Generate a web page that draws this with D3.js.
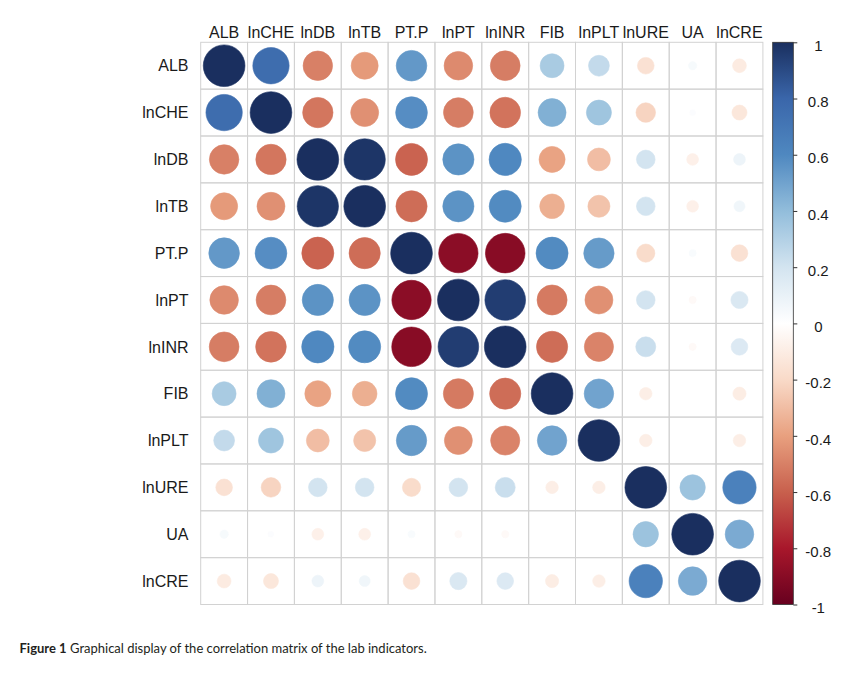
<!DOCTYPE html>
<html>
<head>
<meta charset="utf-8">
<script src="https://cdn.jsdelivr.net/npm/d3@7"></script>
<style>
  html, body { margin: 0; padding: 0; background: #fff; }
  svg { display: block; }
</style>
</head>
<body>
<svg id="chart" width="858" height="673"></svg>
<script>
// ---- data ----
const variables = ["ALB", "lnCHE", "lnDB", "lnTB", "PT.P", "lnPT", "lnINR", "FIB", "lnPLT", "lnURE", "UA", "lnCRE"];
const corr = [
  [ 1.00,  0.76, -0.50, -0.42,  0.54, -0.47, -0.51,  0.33,  0.25, -0.16,  0.04, -0.11],
  [ 0.76,  1.00, -0.53, -0.45,  0.58, -0.51, -0.54,  0.45,  0.36, -0.22,  0.02, -0.13],
  [-0.50, -0.53,  1.00,  0.98, -0.59,  0.56,  0.60, -0.39, -0.30,  0.20, -0.08,  0.08],
  [-0.42, -0.45,  0.98,  1.00, -0.56,  0.56,  0.59, -0.35, -0.28,  0.20, -0.08,  0.07],
  [ 0.54,  0.58, -0.59, -0.56,  1.00, -0.89, -0.90,  0.59,  0.53, -0.19,  0.03, -0.16],
  [-0.47, -0.51,  0.56,  0.56, -0.89,  1.00,  0.95, -0.52, -0.45,  0.20, -0.03,  0.17],
  [-0.51, -0.54,  0.60,  0.59, -0.90,  0.95,  1.00, -0.56, -0.49,  0.23, -0.03,  0.16],
  [ 0.33,  0.45, -0.39, -0.35,  0.59, -0.52, -0.56,  1.00,  0.50, -0.09,  0.00, -0.10],
  [ 0.25,  0.36, -0.30, -0.28,  0.53, -0.45, -0.49,  0.50,  1.00, -0.09,  0.00, -0.09],
  [-0.16, -0.22,  0.20,  0.20, -0.19,  0.20,  0.23, -0.09, -0.09,  1.00,  0.37,  0.64],
  [ 0.04,  0.02, -0.08, -0.08,  0.03, -0.03, -0.03,  0.00,  0.00,  0.37,  1.00,  0.47],
  [-0.11, -0.13,  0.08,  0.07, -0.16,  0.17,  0.16, -0.10, -0.09,  0.64,  0.47,  1.00]
];
const legendTicks = [1, 0.8, 0.6, 0.4, 0.2, 0, -0.2, -0.4, -0.6, -0.8, -1];
const paletteStops = [-1, -0.8, -0.6, -0.4, -0.2, 0, 0.2, 0.4, 0.6, 0.8, 1];
const paletteColors = ["#67001f", "#a8172b", "#c8604d", "#e8a07f", "#f9dac8", "#ffffff",
                       "#d3e4f0", "#92bddb", "#4f88c0", "#3a66aa", "#1a2f5f"];
const caption = "Graphical display of the correlation matrix of the lab indicators.";

// ---- layout ----
const svg = d3.select("#chart");
const gridLeft = 200.7, gridTop = 42.3, cell = 46.85;
const n = variables.length;
const labelFont = "'Liberation Sans', Arial, sans-serif";

const x = d3.scaleBand().domain(variables).range([gridLeft, gridLeft + n * cell]);
const y = d3.scaleBand().domain(variables).range([gridTop, gridTop + n * cell]);
const color = d3.scaleLinear().domain(paletteStops).range(paletteColors).interpolate(d3.interpolateRgb);
const rScale = d3.scaleSqrt().domain([0, 1]).range([0, cell * 0.445]);

const cells = [];
corr.forEach((row, i) => row.forEach((v, j) => cells.push({ r: variables[i], c: variables[j], v })));

// grid
svg.append("g").selectAll("rect").data(cells).join("rect")
  .attr("x", d => x(d.c)).attr("y", d => y(d.r))
  .attr("width", x.bandwidth()).attr("height", y.bandwidth())
  .attr("fill", "none").attr("stroke", "#d2d2d2").attr("stroke-width", 1);

// circles
svg.append("g").selectAll("circle").data(cells.filter(d => Math.abs(d.v) > 0.005)).join("circle")
  .attr("cx", d => x(d.c) + x.bandwidth() / 2)
  .attr("cy", d => y(d.r) + y.bandwidth() / 2)
  .attr("r", d => rScale(Math.abs(d.v)))
  .attr("fill", d => color(d.v))
  .attr("stroke", d => color(d.v)).attr("stroke-width", 0.6);

// column labels
svg.append("g").selectAll("text").data(variables).join("text")
  .attr("x", d => x(d) + x.bandwidth() / 2)
  .attr("y", 37.5)
  .attr("text-anchor", "middle")
  .attr("font-family", labelFont)
  .attr("font-size", 16)
  .attr("fill", "#1a1a1a")
  .text(d => d);

// row labels
svg.append("g").selectAll("text").data(variables).join("text")
  .attr("x", 188.5)
  .attr("y", d => y(d) + y.bandwidth() / 2)
  .attr("dy", "0.36em")
  .attr("text-anchor", "end")
  .attr("font-family", labelFont)
  .attr("font-size", 16)
  .attr("fill", "#1a1a1a")
  .text(d => d);

// colour legend
const barX = 772.7, barW = 20.6, barTop = gridTop, barBottom = gridTop + n * cell;
const ly = d3.scaleLinear().domain([1, -1]).range([barTop, barBottom]);
const defs = svg.append("defs");
const grad = defs.append("linearGradient").attr("id", "lg")
  .attr("x1", 0).attr("y1", 1).attr("x2", 0).attr("y2", 0);
grad.selectAll("stop").data(paletteStops).join("stop")
  .attr("offset", d => (d + 1) / 2)
  .attr("stop-color", d => color(d));
svg.append("rect")
  .attr("x", barX).attr("y", barTop).attr("width", barW).attr("height", barBottom - barTop)
  .attr("fill", "url(#lg)").attr("stroke", "#333").attr("stroke-width", 0.8);

const axis = d3.axisRight(ly).tickValues(legendTicks).tickSize(4).tickFormat(d => String(d));
const ag = svg.append("g").attr("transform", `translate(${barX + barW},0)`).call(axis);
ag.select(".domain").remove();
ag.selectAll(".tick line").attr("stroke", "#333");
ag.selectAll(".tick text")
  .attr("x", 25).attr("dy", "0.55em")
  .attr("text-anchor", "middle")
  .attr("font-family", labelFont)
  .attr("font-size", 15)
  .attr("fill", "#1a1a1a");

// caption
const cap = svg.append("text")
  .attr("x", 19.5).attr("y", 652.5)
  .attr("font-family", "Lato, 'Open Sans', sans-serif")
  .attr("font-size", 13)
  .attr("fill", "#231f20");
cap.append("tspan").attr("font-weight", "bold").text("Figure 1");
cap.append("tspan").text(" " + caption);
</script>
</body>
</html>
